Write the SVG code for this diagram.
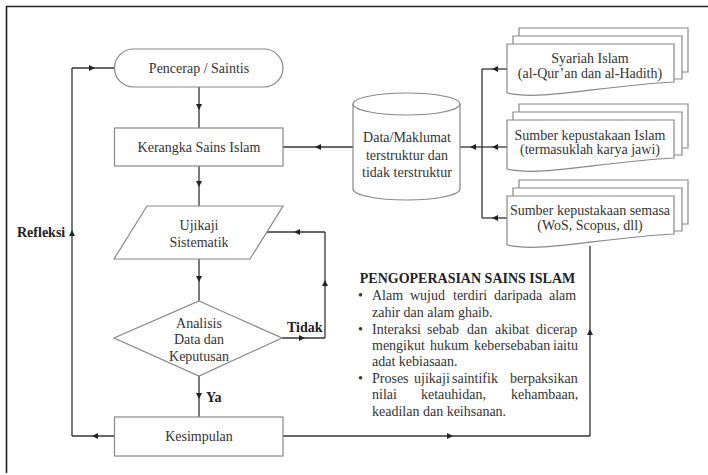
<svg xmlns="http://www.w3.org/2000/svg" width="708" height="475" viewBox="0 0 708 475">
<defs>
<marker id="ah" markerWidth="8" markerHeight="8" refX="4" refY="4" orient="auto" markerUnits="userSpaceOnUse">
<path d="M1,1 L7,4 L1,7 Z" fill="#222"/>
</marker>
<style>
.n{fill:#fff;stroke:#888;stroke-width:1.2}
.t{font-family:"Liberation Serif","Times New Roman",serif;font-size:14px;fill:#333}
.c{text-anchor:middle}
.b{font-weight:bold;fill:#222}
.ln{fill:none;stroke:#333;stroke-width:1.3;marker-mid:url(#ah)}
.pl{fill:none;stroke:#333;stroke-width:1.3}
</style>
</defs>
<rect width="708" height="475" fill="#fff"/>
<path d="M6.5,473 L6.5,6.5 L708,6.5" fill="none" stroke="#222" stroke-width="1.6"/>

<g id="connectors">
<path class="ln" d="M199,87 L199,107 L199,128"/>
<path class="ln" d="M199,166 L199,184 L199,206"/>
<path class="ln" d="M199,259 L199,279 L199,301"/>
<path class="ln" d="M199,376 L199,396 L199,417"/>
<path class="ln" d="M282,338 L302,338 L325,338"/>
<path class="ln" d="M325,338 L325,283 L325,232"/>
<path class="ln" d="M325,232 L297,232 L267,232"/>
<path class="ln" d="M114,436 L95,436 L72,436"/>
<path class="ln" d="M72,436 L72,233 L72,68"/>
<path class="ln" d="M72,68 L92,68 L115,68"/>
<path class="ln" d="M283,436 L450,436 L590,436"/>
<path class="ln" d="M590,436 L590,332 L590,246"/>
<path class="ln" d="M353,147 L318,147 L283,147"/>
<path class="ln" d="M482,147 L473,147 L460,147"/>
<path class="pl" d="M482,69 L482,218"/>
<path class="ln" d="M507,69 L495,69 L482,69"/>
<path class="ln" d="M507,147 L495,147 L482,147"/>
<path class="ln" d="M507,218 L495,218 L482,218"/>
</g>

<g id="pencerap">
<rect class="n" x="114.5" y="49" width="168.5" height="38" rx="19" ry="19"/>
<text class="t c" x="199" y="73">Pencerap / Saintis</text>
</g>

<g id="kerangka">
<rect class="n" x="114.5" y="128" width="168.5" height="38"/>
<text class="t c" x="199" y="152">Kerangka Sains Islam</text>
</g>

<g id="ujikaji">
<polygon class="n" points="147,206 283,206 250,259 114,259"/>
<text class="t c" x="199" y="230">Ujikaji</text>
<text class="t c" x="199" y="247">Sistematik</text>
</g>

<g id="analisis">
<polygon class="n" points="199,301 282,338 199,376 114,338"/>
<text class="t c" x="199" y="328">Analisis</text>
<text class="t c" x="199" y="344">Data dan</text>
<text class="t c" x="199" y="361">Keputusan</text>
</g>

<g id="kesimpulan">
<rect class="n" x="114.5" y="417" width="168.5" height="39"/>
<text class="t c" x="199" y="441">Kesimpulan</text>
</g>

<g id="data">
<path class="n" d="M353,104 L353,189 A53.5,11 0 0 0 460,189 L460,104"/>
<ellipse class="n" cx="406.5" cy="104" rx="53.5" ry="11"/>
<text class="t c" x="407" y="142">Data/Maklumat</text>
<text class="t c" x="407" y="160">terstruktur dan</text>
<text class="t c" x="407" y="177">tidak terstruktur</text>
</g>

<g id="syariah">
<path class="n" d="M519,44 L519,28 L688,28 L688,72 L682,72"/>
<path class="n" d="M513,44 L513,36 L682,36 L682,79 L674,79"/>
<path class="n" d="M507,44 L674,44 L674,82 C600,86 540,101 507,93 Z"/>
<text class="t c" x="590" y="63">Syariah Islam</text>
<text class="t c" x="590" y="78">(al-Qur’an dan al-Hadith)</text>
</g>

<g id="sumber-islam">
<path class="n" d="M519,120 L519,104 L688,104 L688,148 L682,148"/>
<path class="n" d="M513,120 L513,112 L682,112 L682,155 L674,155"/>
<path class="n" d="M507,120 L674,120 L674,158 C600,162 540,177 507,169 Z"/>
<text class="t c" x="590" y="140">Sumber kepustakaan Islam</text>
<text class="t c" x="590" y="154">(termasuklah karya jawi)</text>
</g>

<g id="sumber-semasa">
<path class="n" d="M519,196 L519,180 L688,180 L688,224 L682,224"/>
<path class="n" d="M513,196 L513,188 L682,188 L682,231 L674,231"/>
<path class="n" d="M507,196 L674,196 L674,234 C600,238 540,253 507,245 Z"/>
<text class="t c" x="590" y="215">Sumber kepustakaan semasa</text>
<text class="t c" x="590" y="230">(WoS, Scopus, dll)</text>
</g>

<g id="labels">
<text class="t b" x="17" y="237">Refleksi</text>
<text class="t b" x="287" y="332">Tidak</text>
<text class="t b" x="206" y="402">Ya</text>
</g>

<g id="pengoperasian">
<text class="t b" x="467.5" y="283" text-anchor="middle">PENGOPERASIAN SAINS ISLAM</text>
<text class="t" x="358" y="300">•</text>
<text class="t" y="300"><tspan x="372">Alam</tspan><tspan x="410">wujud</tspan><tspan x="453">terdiri</tspan><tspan x="494">daripada</tspan><tspan x="549">alam</tspan></text>
<text class="t" x="372" y="317">zahir dan alam ghaib.</text>
<text class="t" x="358" y="334">•</text>
<text class="t" y="334"><tspan x="372">Interaksi</tspan><tspan x="427">sebab</tspan><tspan x="467">dan</tspan><tspan x="495">akibat</tspan><tspan x="536">dicerap</tspan></text>
<text class="t" y="350"><tspan x="372">mengikut</tspan><tspan x="430">hukum</tspan><tspan x="474">kebersebaban</tspan><tspan x="553">iaitu</tspan></text>
<text class="t" x="372" y="366">adat kebiasaan.</text>
<text class="t" x="358" y="383">•</text>
<text class="t" y="383"><tspan x="372">Proses</tspan><tspan x="414">ujikaji</tspan><tspan x="452">saintifik</tspan><tspan x="510">berpaksikan</tspan></text>
<text class="t" y="399"><tspan x="372">nilai</tspan><tspan x="421">ketauhidan,</tspan><tspan x="511">kehambaan,</tspan></text>
<text class="t" x="372" y="416">keadilan dan keihsanan.</text>
</g>
</svg>
